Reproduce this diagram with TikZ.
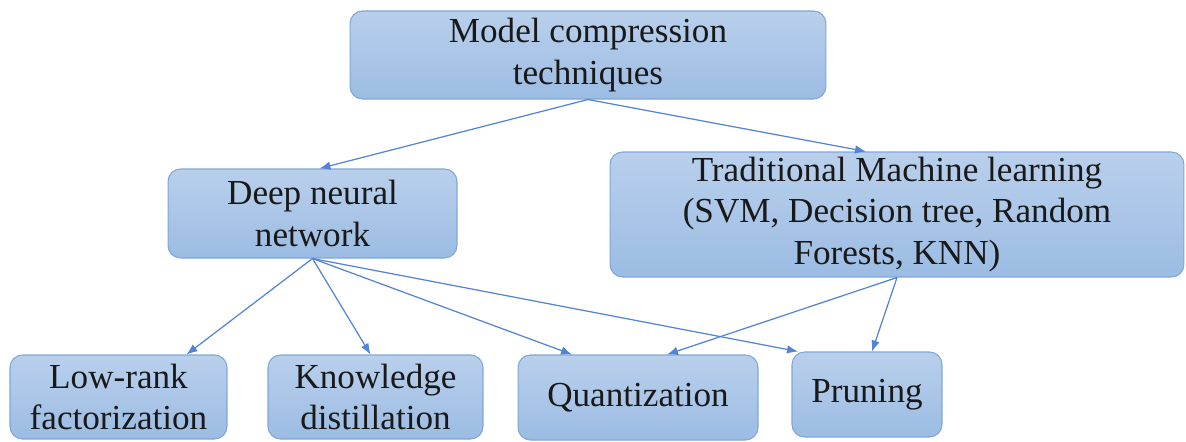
\documentclass[tikz,border=0pt]{standalone}
\usepackage{fontspec}
\newfontfamily\timesfont{Liberation Serif}
\usetikzlibrary{arrows.meta}
\definecolor{boxline}{HTML}{7FA7D9}
\definecolor{boxtop}{HTML}{B9D0EC}
\definecolor{boxbottom}{HTML}{9CBCE3}
\definecolor{arrowblue}{HTML}{5283D6}
\tikzset{
  box/.style={draw=boxline, line width=0.6pt, rounded corners=0.25cm,
    top color=boxtop, bottom color=boxbottom, align=center, inner sep=0pt,
    text=black!90},
  link/.style={draw=arrowblue, line width=0.7pt, -{Latex[length=0.22cm,width=0.17cm]}}
}

\begin{document}
\begin{tikzpicture}[x=0.02cm, y=-0.02cm, font=\fontsize{20}{23.5}\selectfont]
  \useasboundingbox (0,0) rectangle (1186,441);
  %nodes
  \node[box, minimum width=9.52cm, minimum height=1.76cm] at (588,55) (model) {\timesfont Model compression\\\timesfont techniques};
  \node[box, minimum width=5.78cm, minimum height=1.78cm] at (312.5,213.5) (dnn) {\timesfont Deep neural\\\timesfont network};
  \node[box, minimum width=11.48cm, minimum height=2.5cm] at (897,214.5) (tml) {\timesfont Traditional Machine learning\\\timesfont (SVM, Decision tree, Random\\\timesfont Forests, KNN)};
  \node[box, minimum width=4.34cm, minimum height=1.68cm] at (118.5,397) (lowrank) {\timesfont Low-rank\\\timesfont factorization};
  \node[box, minimum width=4.3cm, minimum height=1.68cm] at (375.5,397) (distill) {\timesfont Knowledge\\\timesfont distillation};
  \node[box, minimum width=4.8cm, minimum height=1.7cm] at (638,397.5) (quant) {\timesfont Quantization};
  \node[box, minimum width=3.0cm, minimum height=1.7cm] at (867,394.5) (prune) {\timesfont Pruning};
  %arrows
  \path
    (model.south) edge[link] ([xshift=0.14cm]dnn.north)
    (model.south) edge[link] ([xshift=-0.62cm]tml.north)
    (dnn.south) edge[link] ([xshift=1.36cm]lowrank.north)
    (dnn.south) edge[link] ([xshift=-0.1cm]distill.north)
    (dnn.south) edge[link] ([xshift=-1.32cm]quant.north)
    (dnn.south) edge[link] ([xshift=-1.38cm]prune.north)
    (tml.south) edge[link] ([xshift=0.58cm]quant.north)
    (tml.south) edge[link] ([xshift=0.1cm]prune.north);
\end{tikzpicture}
\end{document}
